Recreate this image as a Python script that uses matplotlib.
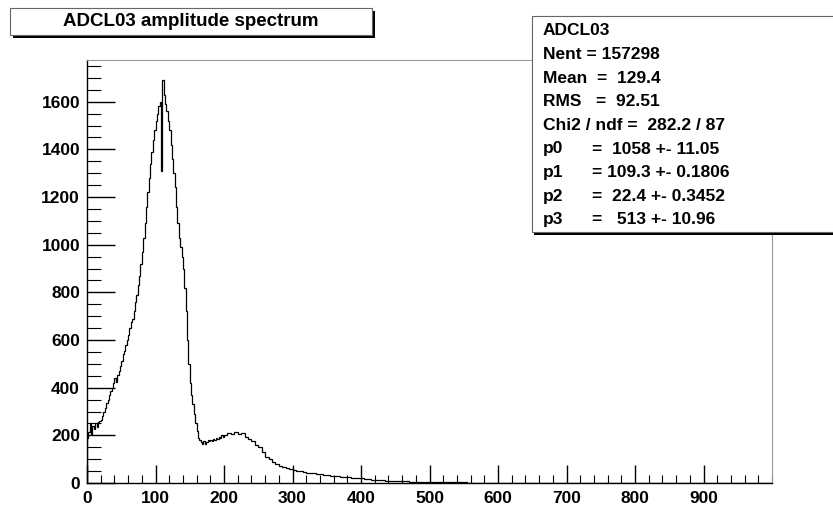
import numpy as np
import matplotlib
matplotlib.use('Agg')
import matplotlib.pyplot as plt
from matplotlib.patches import Rectangle
from matplotlib.ticker import MultipleLocator

# histogram contents
# fine part: 2-unit bins from 0 to 200
FINE_WIDTH = 2
counts_fine = [
    190, 215, 250, 205, 240, 225, 250, 235, 255, 260,
    265, 280, 300, 315, 335, 350, 370, 385, 400, 420,
    440, 425, 455, 470, 490, 510, 540, 555, 580, 600,
    620, 650, 675, 690, 720, 760, 790, 830, 870, 920,
    970, 1030, 1090, 1160, 1220, 1280, 1340, 1390, 1440, 1480,
    1520, 1550, 1580, 1600, 1310, 1690, 1630, 1590, 1560, 1520,
    1480, 1420, 1360, 1300, 1240, 1160, 1090, 1030, 990, 950,
    900, 820, 720, 600, 500, 420, 370, 330, 290, 250,
    220, 190, 180, 170, 165, 175, 165, 170, 180, 175,
    180, 175, 185, 180, 190, 185, 195, 190, 200, 195,
]
# coarse part: 5-unit bins from 200 to 1000
COARSE_WIDTH = 5
counts_coarse = [
    # 200 - 300
    200, 210, 205, 215, 205, 210, 195, 185, 175, 160,
    150, 130, 110, 100, 90, 80, 72, 68, 62, 58,
    # 300 - 400
    55, 52, 50, 46, 44, 42, 40, 38, 37, 35,
    33, 31, 30, 29, 27, 26, 24, 23, 22, 21,
    # 400 - 500
    19, 17, 15, 14, 13, 12, 11, 10, 9, 9,
    8, 8, 7, 7, 6, 6, 6, 5, 5, 5,
    # 500 - 600
    5, 4, 4, 4, 4, 3, 3, 3, 3, 3,
    3, 2, 2, 2, 2, 2, 2, 2, 2, 2,
    # 600 - 700
    2, 2, 1, 1, 1, 1, 1, 1, 1, 1,
    1, 1, 1, 1, 1, 1, 1, 1, 1, 1,
    # 700 - 1000
    1, 1, 1, 1, 1, 1, 1, 0, 0, 0,
    0, 0, 0, 0, 0, 0, 0, 0, 0, 0,
    0, 0, 0, 0, 0, 0, 0, 0, 0, 0,
    0, 0, 0, 0, 0, 0, 0, 0, 0, 0,
    0, 0, 0, 0, 0, 0, 0, 0, 0, 0,
    0, 0, 0, 0, 0, 0, 0, 0, 0, 0,
]

x_ticks = [0, 100, 200, 300, 400, 500, 600, 700, 800, 900]
y_ticks = [0, 200, 400, 600, 800, 1000, 1200, 1400, 1600]

title_text = "ADCL03 amplitude spectrum"
stats_labels = ["ADCL03", "Nent = 157298", "Mean  =  129.4", "RMS   =  92.51",
                "Chi2 / ndf =  282.2 / 87", "p0", "p1", "p2", "p3"]
stats_values = [None, None, None, None, None,
                "=  1058 +- 11.05", "= 109.3 +- 0.1806",
                "=  22.4 +- 0.3452", "=   513 +- 10.96"]

plt.rcParams['font.family'] = ['Liberation Sans', 'DejaVu Sans']

W, H = 833, 513
fig = plt.figure(figsize=(W / 100, H / 100), dpi=100)
ax = fig.add_axes([87 / W, 1 - 483 / H, (772 - 87) / W, (483 - 60) / H])

fine_end = len(counts_fine) * FINE_WIDTH
edges = np.concatenate([
    np.arange(len(counts_fine)) * FINE_WIDTH,
    fine_end + np.arange(len(counts_coarse) + 1) * COARSE_WIDTH,
])
ax.stairs(counts_fine + counts_coarse, edges, color='black', lw=0.9)

ax.set_xlim(0, 1000)
ax.set_ylim(0, 1775)
ax.set_xticks(x_ticks)
ax.set_yticks(y_ticks)
ax.xaxis.set_minor_locator(MultipleLocator(20))
ax.yaxis.set_minor_locator(MultipleLocator(50))
ax.tick_params(axis='both', which='major', direction='in', labelsize=12.5,
               width=1, color='black')
ax.tick_params(axis='y', which='major', length=20, pad=5)
ax.tick_params(axis='y', which='minor', direction='in', length=10, width=0.8)
ax.tick_params(axis='x', which='major', length=13, pad=6)
ax.tick_params(axis='x', which='minor', direction='in', length=6, width=0.8)
for lab in ax.get_xticklabels() + ax.get_yticklabels():
    lab.set_fontweight('bold')

ax.spines['left'].set_linewidth(1.0)
ax.spines['bottom'].set_linewidth(1.0)
for s in ('top', 'right'):
    ax.spines[s].set_color('#999999')
    ax.spines[s].set_linewidth(0.8)

# title box with shadow
tx0, ty0, tx1, ty1 = 10, 8, 372, 35
fig.patches.append(Rectangle(((tx0 + 3) / W, 1 - (ty1 + 3) / H), (tx1 - tx0) / W, (ty1 - ty0) / H,
                             transform=fig.transFigure, facecolor='black', edgecolor='none'))
fig.patches.append(Rectangle((tx0 / W, 1 - ty1 / H), (tx1 - tx0) / W, (ty1 - ty0) / H,
                             transform=fig.transFigure, facecolor='white', edgecolor='#666666', lw=0.8))
fig.text((tx0 + tx1) / 2 / W, 1 - (ty0 + ty1) / 2 / H, title_text, ha='center', va='center',
         fontsize=13.5, fontweight='bold')

# stats box with shadow
sx0, sy0, sx1, sy1 = 532, 16, 840, 232
fig.patches.append(Rectangle(((sx0 + 2) / W, 1 - (sy1 + 3) / H), (sx1 - sx0) / W, (sy1 - sy0) / H,
                             transform=fig.transFigure, facecolor='black', edgecolor='none'))
fig.patches.append(Rectangle((sx0 / W, 1 - sy1 / H), (sx1 - sx0) / W, (sy1 - sy0) / H,
                             transform=fig.transFigure, facecolor='white', edgecolor='#666666', lw=0.8))
line_y0, line_dy = 31, 23.6
for i, (lab, val) in enumerate(zip(stats_labels, stats_values)):
    y = 1 - (line_y0 + i * line_dy) / H
    fig.text(543 / W, y, lab, ha='left', va='center', fontsize=12.5, fontweight='bold')
    if val is not None:
        fig.text(592 / W, y, val, ha='left', va='center', fontsize=12.5, fontweight='bold')

fig.savefig('out.png', dpi=100)
